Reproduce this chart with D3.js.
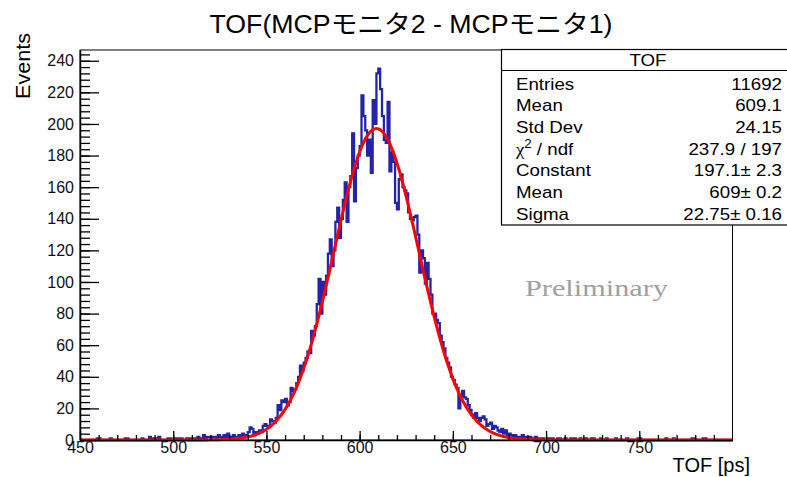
<!DOCTYPE html>
<html>
<head>
<meta charset="utf-8">
<script src="https://cdn.jsdelivr.net/npm/d3@7"></script>
<style>
  body { margin: 0; background: #fff; }
  text { font-family: "Liberation Sans", Arial, "Noto Sans CJK JP", sans-serif; }
</style>
</head>
<body>
<script>
'use strict';

// histogram: 1 ps bins from 450 to 800
const binStart = 450
const binWidth = 1
const counts = [
  0,0,0,0,0,0,0,0,0,1,
  1,0,0,0,0,0,1,0,0,0,
  0,0,0,0,1,1,0,0,0,0,
  0,0,0,1,0,0,0,2,0,1,
  1,0,2,0,0,0,0,1,1,0,
  0,1,1,0,1,0,0,1,0,1,
  1,0,1,2,0,1,3,1,2,2,
  1,2,2,1,3,2,1,3,2,4,
  2,1,3,2,2,3,2,4,3,2,
  5,8,7,3,5,4,6,5,9,10,
  9,8,13,12,11,14,22,19,25,24,
  26,22,24,33,31,32,36,40,47,44,
  49,52,56,55,69,66,72,86,102,80,
  100,92,104,118,127,110,120,138,147,128,
  140,152,163,138,160,167,194,151,172,180,
  186,218,205,196,180,190,169,215,200,232,
  235,222,205,190,188,214,170,182,176,150,
  146,165,168,160,158,156,144,140,139,141,
  142,130,106,120,115,99,112,102,92,80,
  80,76,74,66,62,58,52,49,46,40,
  38,35,33,20,28,31,27,26,22,19,
  16,14,17,14,12,14,15,13,9,10,
  11,7,9,8,6,5,7,4,6,3,
  4,3,2,3,1,2,2,3,1,2,
  1,2,1,0,2,1,0,1,1,0,
  0,1,0,1,0,0,1,1,0,0,
  1,0,0,1,0,1,0,0,1,0,
  0,1,0,0,1,1,0,0,0,1,
  0,0,1,0,0,0,0,1,0,0,
  0,0,0,1,0,0,0,0,0,1,
  1,0,0,0,0,0,0,0,0,0,
  0,0,0,0,1,0,0,0,1,0,
  0,0,0,0,0,0,0,0,1,1,
  0,0,0,0,1,1,0,0,0,0,
  0,0,0,0,0,0,0,0,0,0
]

// gaussian fit: constant, mean, sigma
const fitParams = [197.1, 609, 22.75]

const xMajorTicks = [450, 500, 550, 600, 650, 700, 750]
const xMinorTicks = d3.range(460, 800, 10)
const yMajorTicks = [0, 20, 40, 60, 80, 100, 120, 140, 160, 180, 200, 220, 240]
const yMinorTicks = d3.range(4, 245, 4)

const statLabels = ["Entries", "Mean", "Std Dev", "chi", "Constant", "Mean", "Sigma"]
const statValues = ["11692", "609.1", "24.15", "237.9 / 197", "197.1\u00b1 2.3", "609\u00b1 0.2", "22.75\u00b1 0.16"]

const m = {
  width: 787,
  height: 477,
  left: 80,
  right: 732.5,
  top: 50,
  bottom: 440
}

// the stats text in the picture is a bit wider than the font
const stretch = 1.1

const svg = d3.select('body')
  .append('svg')
  .attr('width', m.width)
  .attr('height', m.height)

const xScale = d3.scaleLinear()
  .domain([450, 800])
  .range([m.left, m.right])

const yScale = d3.scaleLinear()
  .domain([0, 246.8])
  .range([m.bottom, m.top])

drawFrame()
drawHistogram()
drawFit()
drawAxes()
drawLabels()
drawStats()

function drawFrame() {
  svg.append('rect')
    .attr('x', m.left)
    .attr('y', m.top)
    .attr('width', m.right - m.left)
    .attr('height', m.bottom - m.top)
    .style('fill', 'none')
    .style('stroke', '#000')
    .style('stroke-width', 1)
}

function drawHistogram() {
  let pts = counts.map((c, i) => [binStart + i * binWidth, c])
  pts.push([binStart + counts.length * binWidth, counts[counts.length - 1]])

  let line = d3.line()
    .x(d => xScale(d[0]))
    .y(d => yScale(d[1]))
    .curve(d3.curveStepAfter)

  svg.append('path')
    .datum(pts)
    .attr('d', line)
    .style('fill', 'none')
    .style('stroke', '#2424a8')
    .style('stroke-width', 2.3)
}

function drawFit() {
  let [c, mu, s] = fitParams
  let xs = d3.range(450, 800.01, 0.5)
  let line = d3.line()
    .x(d => xScale(d))
    .y(d => yScale(c * Math.exp(-0.5 * Math.pow((d - mu) / s, 2))))

  svg.append('path')
    .datum(xs)
    .attr('d', line)
    .style('fill', 'none')
    .style('stroke', '#ff0000')
    .style('stroke-width', 3)
}

function drawAxes() {
  let xMinor = d3.axisBottom(xScale).tickValues(xMinorTicks)
    .tickSizeInner(-5).tickSizeOuter(0).tickFormat('')
  svg.append('g')
    .attr('transform', 'translate(0,' + m.bottom + ')')
    .call(xMinor)
    .call(g => g.select('.domain').remove())

  let xAxis = d3.axisBottom(xScale).tickValues(xMajorTicks)
    .tickSizeInner(-9).tickSizeOuter(0).tickPadding(2)
  svg.append('g')
    .attr('id', 'x-axis')
    .attr('transform', 'translate(0,' + m.bottom + ')')
    .style('font-size', '16px')
    .call(xAxis)
    .call(g => g.select('.domain').style('stroke-width', 1.5))
    .call(g => g.selectAll('text').style('fill', '#111'))

  let yMinor = d3.axisLeft(yScale).tickValues(yMinorTicks)
    .tickSizeInner(-10).tickSizeOuter(0).tickFormat('')
  svg.append('g')
    .attr('transform', 'translate(' + m.left + ',0)')
    .call(yMinor)
    .call(g => g.select('.domain').remove())

  let yAxis = d3.axisLeft(yScale).tickValues(yMajorTicks)
    .tickSizeInner(-19).tickSizeOuter(0).tickPadding(6)
  svg.append('g')
    .attr('id', 'y-axis')
    .attr('transform', 'translate(' + m.left + ',0)')
    .style('font-size', '16px')
    .call(yAxis)
    .call(g => g.select('.domain').style('stroke-width', 1.5))
    .call(g => g.selectAll('text').style('fill', '#111'))

  svg.selectAll('.tick line').style('stroke-width', 1.3)
}

function drawLabels() {
  svg.append('text')
    .attr('id', 'title')
    .attr('x', 411)
    .attr('y', 33)
    .attr('text-anchor', 'middle')
    .attr('textLength', 403)
    .attr('lengthAdjust', 'spacingAndGlyphs')
    .style('font-size', '25px')
    .text('TOF(MCPモニタ2 - MCPモニタ1)')

  svg.append('text')
    .attr('x', 750)
    .attr('y', 472)
    .attr('text-anchor', 'end')
    .style('font-size', '20px')
    .text('TOF [ps]')

  svg.append('text')
    .attr('transform', 'translate(30, 33)rotate(-90)')
    .attr('text-anchor', 'end')
    .attr('textLength', 66)
    .attr('lengthAdjust', 'spacingAndGlyphs')
    .style('font-size', '20px')
    .text('Events')

  svg.append('text')
    .attr('x', 525)
    .attr('y', 296)
    .attr('textLength', 143)
    .attr('lengthAdjust', 'spacingAndGlyphs')
    .style('font-family', '"Liberation Serif", "DejaVu Serif", serif')
    .style('font-size', '23px')
    .style('fill', '#a0a0a0')
    .text('Preliminary')
}

function widen(t) {
  let len = t.node().getComputedTextLength()
  t.attr('textLength', len * stretch).attr('lengthAdjust', 'spacingAndGlyphs')
}

function drawStats() {
  let box = svg.append('g').attr('id', 'stats')
  box.append('rect')
    .attr('x', 501.5)
    .attr('y', 49.5)
    .attr('width', 300)
    .attr('height', 175.5)
    .style('fill', '#fff')
    .style('stroke', '#000')
    .style('stroke-width', 1.2)
  box.append('line')
    .attr('x1', 501.5).attr('x2', 800)
    .attr('y1', 70.5).attr('y2', 70.5)
    .style('stroke', '#000')
    .style('stroke-width', 1)
  let head = box.append('text')
    .attr('x', 648)
    .attr('y', 66)
    .attr('text-anchor', 'middle')
    .style('font-size', '17px')
    .text('TOF')
  widen(head)

  statLabels.forEach((lab, i) => {
    let y = 89.5 + i * 21.67
    let t = box.append('text')
      .attr('x', 516)
      .attr('y', y)
      .style('font-size', '17px')
    if (lab == 'chi') {
      t.append('tspan').style('font-family', '"Liberation Serif", serif').text('\u03c7')
      t.append('tspan').attr('dy', -7).style('font-size', '12px').text('2')
      t.append('tspan').attr('dy', 7).text(' / ndf')
    } else {
      t.text(lab)
    }
    widen(t)
    let v = box.append('text')
      .attr('x', 782)
      .attr('y', y)
      .attr('text-anchor', 'end')
      .style('font-size', '17px')
      .text(statValues[i])
    widen(v)
  })
}
</script>
</body>
</html>
